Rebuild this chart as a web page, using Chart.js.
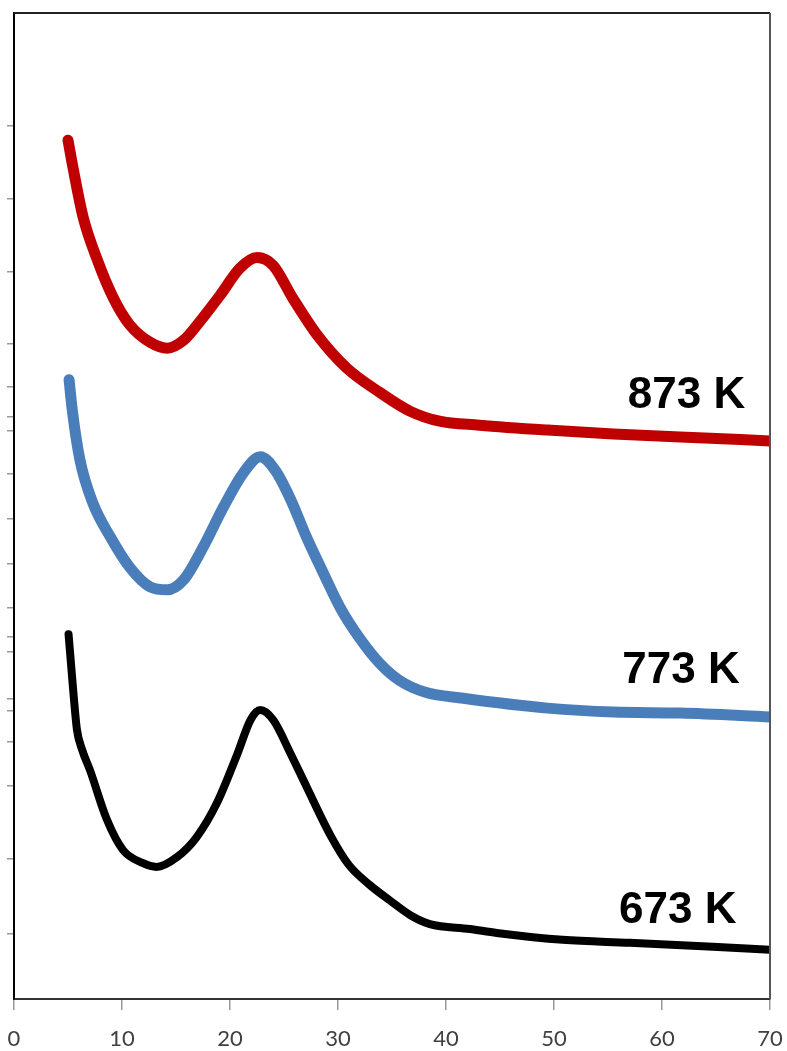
<!DOCTYPE html>
<html>
<head>
<meta charset="utf-8">
<script src="https://cdn.jsdelivr.net/npm/chart.js@4/dist/chart.umd.min.js"></script>
<style>
  html, body { margin: 0; padding: 0; background: #fff; overflow: hidden; }
  #wrap { position: relative; width: 787px; height: 1051px; }
  canvas { display: block; }
</style>
</head>
<body>
<div id="wrap"><canvas id="xrd"></canvas></div>
<script>
// 2-theta positions and intensities (a.u.)
const twoTheta873 = [5.0, 5.5, 6.4, 7.7, 9.2, 10.7, 12.6, 14.2, 15.7, 17.2, 19.1, 20.9, 22.5, 24.0, 25.8, 28.1, 30.8, 33.9, 36.7, 39.4, 43.1, 49.4, 55.5, 61.7, 70];
const int873 = [87.1, 84.1, 79.3, 75.0, 71.1, 68.4, 66.6, 66.0, 66.8, 68.7, 71.4, 74.1, 75.2, 74.4, 71.1, 67.3, 64.0, 61.5, 59.6, 58.6, 58.2, 57.7, 57.3, 57.0, 56.6];

const twoTheta773 = [5.1, 5.4, 6.1, 7.3, 8.9, 10.7, 12.6, 14.2, 15.7, 17.5, 19.4, 21.2, 22.8, 24.2, 25.6, 27.1, 28.6, 30.2, 32.0, 33.9, 35.7, 38.1, 41.6, 49.4, 55.5, 61.7, 70];
const int773 = [62.8, 59.7, 54.7, 50.3, 46.9, 43.8, 41.8, 41.5, 42.5, 45.8, 49.9, 53.3, 55.0, 53.6, 50.7, 46.8, 43.3, 39.7, 36.6, 34.0, 32.3, 31.1, 30.5, 29.5, 29.1, 29.0, 28.6];

const twoTheta673 = [5.05, 5.3, 5.56, 5.83, 6.3, 7.04, 8.6, 10.1, 11.9, 13.2, 15.1, 16.9, 18.8, 20.7, 21.9, 22.8, 24.0, 25.6, 27.1, 29.3, 31.0, 32.9, 34.8, 36.7, 38.5, 42.2, 44.7, 50.8, 57.0, 64.7, 70];
const int673 = [37.0, 33.7, 30.3, 27.3, 25.3, 23.2, 18.2, 15.1, 13.8, 13.4, 14.4, 16.4, 19.9, 24.9, 28.3, 29.3, 28.3, 24.9, 21.5, 16.6, 13.6, 11.6, 10.0, 8.5, 7.6, 7.1, 6.7, 6.0, 5.7, 5.3, 5.0];

const xTicks = [0, 10, 20, 30, 40, 50, 60, 70];
const yTicks = [88.6, 81.2, 73.8, 66.5, 62.1, 59.1, 57.6, 53.3, 48.7, 44.1, 39.7, 36.7, 35.2, 30.5, 29.2, 26.1, 21.6, 14.2, 6.6];

const seriesNames = ['873 K', '773 K', '673 K'];
const seriesColors = ['#C00000', '#4A7EBB', '#000000'];

// where each temperature label sits, in data units (right edge, baseline)
const labelAnchors = [
  { x: 67.7, y: 59.9 },
  { x: 67.2, y: 32.0 },
  { x: 66.9, y: 7.7 }
];

const toPoints = (xs, ys) => xs.map((x, i) => ({ x: x, y: ys[i] }));

// frame on top and right + temperature labels
const framePlugin = {
  id: 'frameAndLabels',
  afterDraw(chart) {
    const { ctx, chartArea, scales } = chart;
    ctx.save();
    ctx.strokeStyle = '#222';
    ctx.lineWidth = 2;
    ctx.beginPath();
    ctx.moveTo(chartArea.left, chartArea.top);
    ctx.lineTo(chartArea.right, chartArea.top);
    ctx.stroke();
    ctx.strokeStyle = '#555';
    ctx.beginPath();
    ctx.moveTo(chartArea.right, chartArea.top);
    ctx.lineTo(chartArea.right, chartArea.bottom);
    ctx.stroke();

    ctx.fillStyle = '#000';
    ctx.font = 'bold 44px "Liberation Sans", Arial, sans-serif';
    ctx.textAlign = 'right';
    ctx.textBaseline = 'alphabetic';
    seriesNames.forEach((name, i) => {
      const a = labelAnchors[i];
      ctx.fillText(name, scales.x.getPixelForValue(a.x), scales.y.getPixelForValue(a.y));
    });
    ctx.restore();
  }
};

const lineWidths = [11, 11, 8];
const dataSets = [toPoints(twoTheta873, int873), toPoints(twoTheta773, int773), toPoints(twoTheta673, int673)];

new Chart(document.getElementById('xrd'), {
  type: 'line',
  data: {
    datasets: dataSets.map((pts, i) => ({
      label: seriesNames[i],
      data: pts,
      borderColor: seriesColors[i],
      borderWidth: lineWidths[i],
      borderCapStyle: 'round',
      borderJoinStyle: 'round',
      pointRadius: 0,
      cubicInterpolationMode: 'monotone',
      fill: false
    }))
  },
  options: {
    responsive: true,
    maintainAspectRatio: false,
    animation: false,
    layout: { padding: { left: 0, top: 13, right: 17, bottom: 0 } },
    plugins: {
      legend: { display: false },
      tooltip: { enabled: false }
    },
    scales: {
      x: {
        type: 'linear',
        min: 0,
        max: 70,
        afterBuildTicks: scale => { scale.ticks = xTicks.map(v => ({ value: v })); },
        afterFit: scale => {
          scale.height = 52;
          // labels at the ends may overhang, like the original
          scale.paddingLeft = 0;
          scale.paddingRight = 0;
        },
        border: { color: '#333', width: 2 },
        grid: { drawOnChartArea: false, drawTicks: true, tickLength: 11, color: '#999', lineWidth: 1.5 },
        ticks: {
          padding: 16,
          color: '#404040',
          font: { family: 'Lato', size: 22 }
        }
      },
      y: {
        type: 'linear',
        min: 0,
        max: 100,
        afterBuildTicks: scale => { scale.ticks = yTicks.map(v => ({ value: v })); },
        afterFit: scale => { scale.width = 14; },
        border: { color: '#000', width: 2 },
        grid: { drawOnChartArea: false, drawTicks: true, tickLength: 7, color: '#999', lineWidth: 1.5 },
        ticks: { display: false }
      }
    }
  },
  plugins: [framePlugin]
});
</script>
</body>
</html>
